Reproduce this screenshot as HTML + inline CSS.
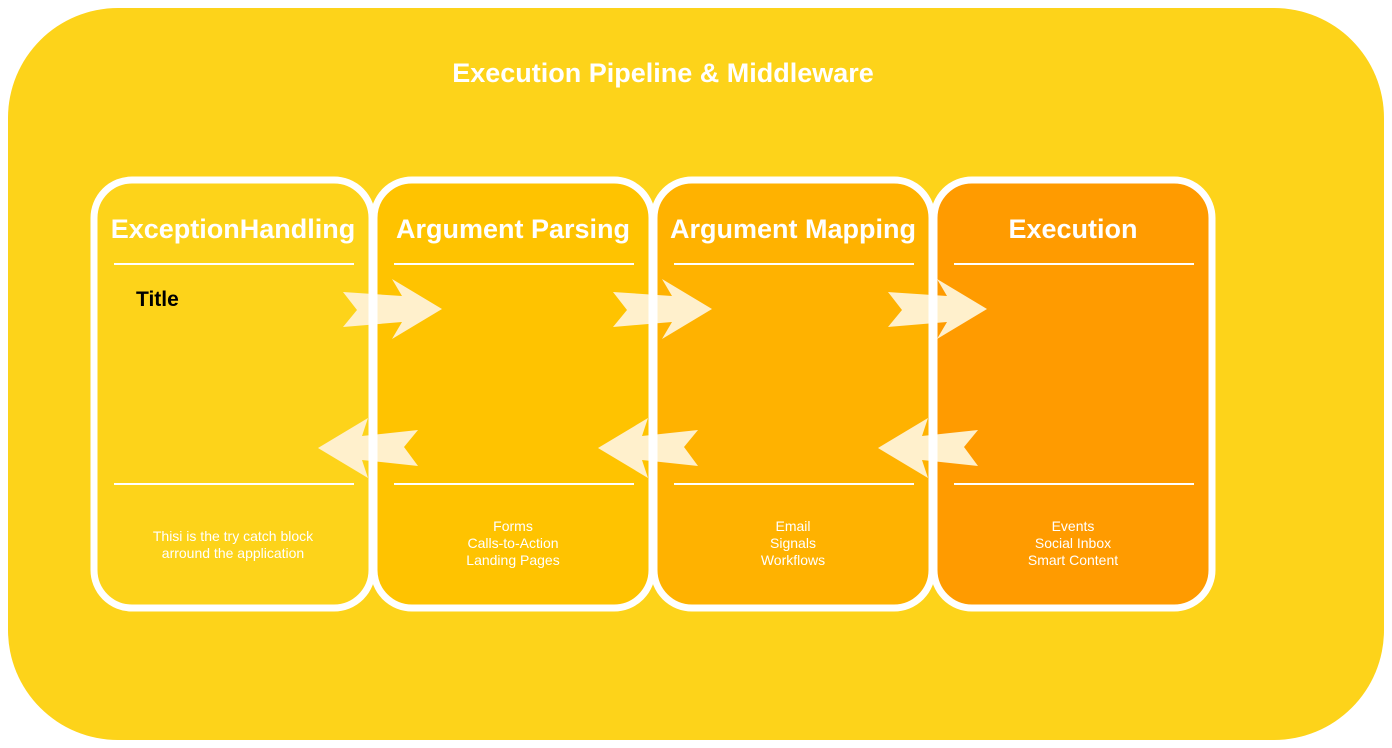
<!DOCTYPE html>
<html><head><meta charset="utf-8"><style>
html,body{margin:0;padding:0;background:#fff;}
svg{display:block;font-family:"Liberation Sans",Arial,sans-serif;}
</style></head><body>
<svg width="1392" height="748" viewBox="0 0 1392 748" xmlns="http://www.w3.org/2000/svg">
<rect x="8" y="8" width="1376" height="732" rx="110" fill="#FDD31A"/>
<text x="663" y="82" text-anchor="middle" font-size="27" font-weight="bold" fill="#fff">Execution Pipeline &amp; Middleware</text>
<g>
<rect x="94" y="180" width="278" height="428" rx="38" fill="#FDD31A"/>
<rect x="374" y="180" width="278" height="428" rx="38" fill="#FFC300"/>
<rect x="654" y="180" width="278" height="428" rx="38" fill="#FFB200"/>
<rect x="934" y="180" width="278" height="428" rx="38" fill="#FF9B00"/>
</g>
<defs>
<polygon id="ra" points="343,292 402,296 392,279 442,309 392,339 402,322 343,327 357,310" fill="#FFF0CC"/>
<polygon id="la" points="318,448 368,418 362,436 418,430 404,447 418,466 362,460 368,478" fill="#FFF0CC"/>
</defs>
<use href="#ra"/><use href="#ra" x="270"/><use href="#ra" x="545"/>
<use href="#la"/><use href="#la" x="280"/><use href="#la" x="560"/>
<g stroke="#fff" stroke-width="7" fill="none">
<rect x="94" y="180" width="278" height="428" rx="38"/>
<rect x="374" y="180" width="278" height="428" rx="38"/>
<rect x="654" y="180" width="278" height="428" rx="38"/>
<rect x="934" y="180" width="278" height="428" rx="38"/>
</g>
<g stroke="#fff" stroke-width="2">
<line x1="114" y1="264" x2="354" y2="264"/><line x1="114" y1="484" x2="354" y2="484"/>
<line x1="394" y1="264" x2="634" y2="264"/><line x1="394" y1="484" x2="634" y2="484"/>
<line x1="674" y1="264" x2="914" y2="264"/><line x1="674" y1="484" x2="914" y2="484"/>
<line x1="954" y1="264" x2="1194" y2="264"/><line x1="954" y1="484" x2="1194" y2="484"/>
</g>
<g font-size="27" font-weight="bold" fill="#fff" text-anchor="middle">
<text x="233" y="238">ExceptionHandling</text>
<text x="513" y="238">Argument Parsing</text>
<text x="793" y="238">Argument Mapping</text>
<text x="1073" y="238">Execution</text>
</g>
<text x="136" y="306" font-size="21" font-weight="bold" fill="#000">Title</text>
<g font-size="14" fill="#fff" text-anchor="middle">
<text x="233" y="541">Thisi is the try catch block</text>
<text x="233" y="558">arround the application</text>
<text x="513" y="531">Forms</text><text x="513" y="548">Calls-to-Action</text><text x="513" y="565">Landing Pages</text>
<text x="793" y="531">Email</text><text x="793" y="548">Signals</text><text x="793" y="565">Workflows</text>
<text x="1073" y="531">Events</text><text x="1073" y="548">Social Inbox</text><text x="1073" y="565">Smart Content</text>
</g>
</svg>
</body></html>
